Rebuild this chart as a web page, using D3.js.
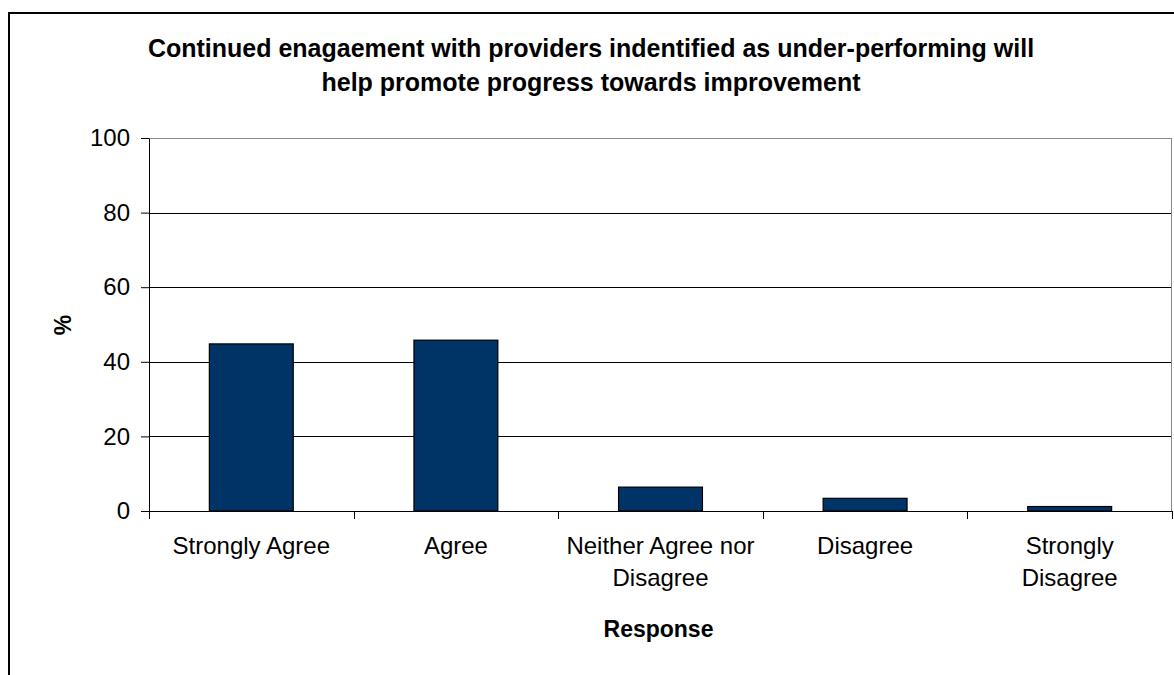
<!DOCTYPE html>
<html>
<head>
<meta charset="utf-8">
<script src="https://cdn.jsdelivr.net/npm/d3@7"></script>
<style>
  body { margin: 0; background: #fff; }
  svg { display: block; font-family: "Liberation Sans", Arial, sans-serif; }
</style>
</head>
<body>
<div id="chart"></div>
<script>
const categories = [["Strongly Agree"], ["Agree"], ["Neither Agree nor", "Disagree"], ["Disagree"], ["Strongly", "Disagree"]];
const values = [44.8, 45.8, 6.4, 3.4, 1.2];
const yTicks = [0, 20, 40, 60, 80, 100];
const titleLines = ["Continued enagaement with providers indentified as under-performing will", "help promote progress towards improvement"];

const W = 1174, H = 675;
const margin = { top: 138, right: 2, bottom: 164, left: 149 };
const width = W - margin.left - margin.right,
  height = H - margin.top - margin.bottom;

const svg = d3.select("#chart").append("svg")
  .attr("width", W)
  .attr("height", H);

// outer frame (runs off the right and bottom edges)
svg.append("rect")
  .attr("x", 9).attr("y", 13)
  .attr("width", W + 20).attr("height", H + 20)
  .attr("fill", "#fff")
  .attr("stroke", "#000")
  .attr("stroke-width", 2);

svg.append("text")
  .attr("text-anchor", "middle")
  .attr("font-size", 25)
  .attr("font-weight", "bold")
  .selectAll("tspan")
  .data(titleLines)
  .join("tspan")
  .attr("x", 591)
  .attr("y", (d, i) => 57 + i * 34)
  .text(d => d);

const g = svg.append("g").attr("transform", `translate(${margin.left},${margin.top})`);

const x = d3.scaleBand().domain(d3.range(categories.length)).range([0, width]).paddingInner(0.59).paddingOuter(0.295);
const xb = d3.scaleBand().domain(d3.range(categories.length)).range([0, width]);
const y = d3.scaleLinear().domain([0, 100]).range([height, 0]);

// gridlines
g.append("g")
  .selectAll("line")
  .data(yTicks.filter(d => d > 0 && d < 100))
  .join("line")
  .attr("x1", 0).attr("x2", width)
  .attr("y1", d => Math.round(y(d)) + 0.5).attr("y2", d => Math.round(y(d)) + 0.5)
  .attr("stroke", "#000")
  .attr("stroke-width", 1);

// plot area border
g.append("rect")
  .attr("x", 0.5).attr("y", 0.5)
  .attr("width", width - 1).attr("height", height)
  .attr("fill", "none")
  .attr("stroke", "#888")
  .attr("stroke-width", 1);

// bars
g.append("g")
  .selectAll("rect")
  .data(values)
  .join("rect")
  .attr("x", (d, i) => x(i))
  .attr("y", d => y(d))
  .attr("width", x.bandwidth())
  .attr("height", d => height - y(d))
  .attr("fill", "#003366")
  .attr("stroke", "#000")
  .attr("stroke-width", 1.2);

// y axis
const yAxis = g.append("g")
  .call(d3.axisLeft(y).tickValues(yTicks).tickSize(8).tickPadding(11).tickSizeOuter(0));
yAxis.select(".domain").attr("stroke", "#000");
yAxis.selectAll(".tick line").attr("stroke", "#000");
yAxis.selectAll("text").attr("font-size", 24).attr("fill", "#000").attr("font-family", "Liberation Sans, Arial, sans-serif");

// x axis
const xAxisG = g.append("g").attr("transform", `translate(0,${height})`);
xAxisG.append("line").attr("x1", 0).attr("x2", width).attr("y1", 0.5).attr("y2", 0.5).attr("stroke", "#000");
xAxisG.selectAll("line.tk")
  .data(d3.range(categories.length + 1))
  .join("line")
  .attr("class", "tk")
  .attr("x1", d => Math.round(d * xb.bandwidth()) + 0.5)
  .attr("x2", d => Math.round(d * xb.bandwidth()) + 0.5)
  .attr("y1", 0).attr("y2", 8)
  .attr("stroke", "#000");

xAxisG.selectAll("text.cat")
  .data(categories)
  .join("text")
  .attr("class", "cat")
  .attr("text-anchor", "middle")
  .attr("font-size", 24)
  .selectAll("tspan")
  .data((d, i) => d.map(t => ({ t, i })))
  .join("tspan")
  .attr("x", d => xb(d.i) + xb.bandwidth() / 2)
  .attr("y", (d, j) => 43 + j * 32)
  .text(d => d.t);

// axis titles
svg.append("text")
  .attr("x", margin.left + width / 2 - 2).attr("y", 637)
  .attr("text-anchor", "middle")
  .attr("font-size", 23)
  .attr("font-weight", "bold")
  .text("Response");

svg.append("text")
  .attr("transform", "translate(71,325) rotate(-90)")
  .attr("text-anchor", "middle")
  .attr("font-size", 23)
  .attr("font-weight", "bold")
  .text("%");
</script>
</body>
</html>
